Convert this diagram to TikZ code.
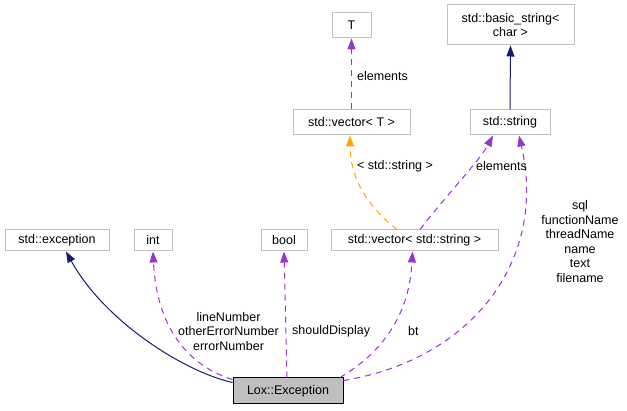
\documentclass[tikz,border=0pt]{standalone}
\usepackage{fontspec}
\setmainfont{Liberation Sans}
\usetikzlibrary{arrows.meta}
\definecolor{boxgray}{HTML}{BFBFBF}
\definecolor{edgepurple}{HTML}{9A32CD}
\definecolor{edgenavy}{HTML}{191970}
\definecolor{edgeorange}{HTML}{FFA500}
\tikzset{
  cls/.style={draw=boxgray, fill=white, line width=1pt, inner sep=0pt, align=center, font=\fontsize{12.5}{14.5}\selectfont},
  mainbox/.style={cls, draw=black, fill=boxgray},
  tip/.style={-{Triangle[length=11pt,width=8pt]}},
  inherit/.style={tip, draw=edgenavy, line width=1pt},
  usage/.style={tip, draw=edgepurple, line width=1pt, dash pattern=on 6pt off 5pt},
  templ/.style={tip, draw=edgeorange, line width=1pt, dash pattern=on 6pt off 5pt},
  lbl/.style={inner sep=0pt, align=center, font=\fontsize{12.5}{14.5}\selectfont}
}
\begin{document}
\begin{tikzpicture}[x=1pt,y=-1pt]
\useasboundingbox (0,0) rectangle (627,411);
\node[cls, minimum width=104pt, minimum height=21pt] (exc) at (57,240.5) {std::exception};
\node[cls, minimum width=38pt, minimum height=21pt] (int) at (153,240.5) {int};
\node[cls, minimum width=46pt, minimum height=21pt] (bool) at (284,240.5) {bool};
\node[cls, minimum width=167pt, minimum height=21pt] (vs) at (414.5,240.5) {std::vector< std::string >};
\node[mainbox, minimum width=110pt, minimum height=26pt] (lox) at (288,391) {Lox::Exception};
\node[cls, minimum width=39pt, minimum height=25pt] (T) at (351.5,25.5) {T};
\node[cls, minimum width=117pt, minimum height=25pt] (vt) at (351.5,122.5) {std::vector< T >};
\node[cls, minimum width=127pt, minimum height=40pt] (bs) at (510.5,25) {std::basic\_string<\\char >};
\node[cls, minimum width=80pt, minimum height=25pt] (str) at (510,122.5) {std::string};

% inheritance
\draw[inherit] ([yshift=-5pt]lox.north west) .. controls (185,372) and (105,322) .. ([xshift=9pt]exc.south);
\draw[inherit] (str.north) -- (bs.south);

% usage
\draw[usage] ([yshift=-2pt]lox.north west) .. controls (195,368) and (157,335) .. (int.south);
\draw[usage] ([xshift=-1pt]lox.north) -- (bool.south);
\draw[usage] ([xshift=52pt]lox.north) .. controls (395,345) and (410,300) .. ([xshift=-2pt]vs.south);
\draw[usage] ([yshift=-3pt]lox.north east) .. controls (470,360) and (548,262) .. ([xshift=9pt]str.south);
\draw[usage] ([xshift=5.5pt]vs.north) .. controls (445,197) and (480,160) .. ([xshift=-17pt]str.south);
\draw[usage] (vt.north) -- (T.south);
\draw[templ] ([xshift=-17.5pt]vs.north) .. controls (362,202) and (350,172) .. ([xshift=-1.5pt]vt.south);

% labels
\node[lbl] (l1) at (228.5,331.5) {lineNumber\\otherErrorNumber\\errorNumber};
\node[lbl, anchor=west] (l2) at (292,331) {shouldDisplay};
\node[lbl, anchor=west] (l3) at (408,331) {bt};
\node[lbl] (l4) at (580,241.5) {sql\\functionName\\threadName\\name\\text\\filename};
\node[lbl, anchor=west] (l5) at (476,166) {elements};
\node[lbl, anchor=west] (l6) at (357,166) {< std::string >};
\node[lbl, anchor=west] (l7) at (357,76) {elements};
\end{tikzpicture}
\end{document}
